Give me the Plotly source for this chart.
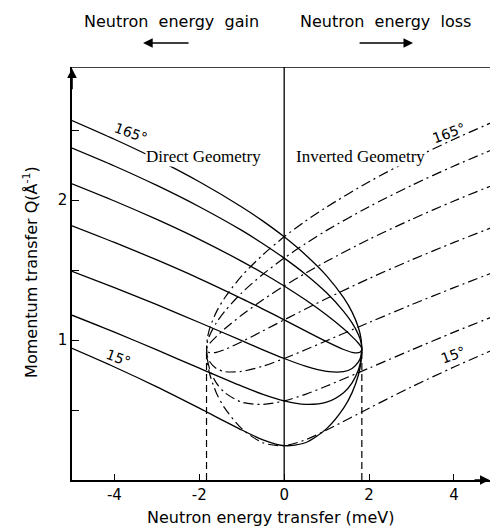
import plotly.graph_objects as go

# Neutron energy transfer (meV) sample points for the direct-geometry curves
omega_direct = [-5, -4, -3, -2, -1, -0.5, 0, 0.5, 1.0, 1.4, 1.6, 1.75, 1.81, 1.83]
# inverted geometry: mirror positions
omega_inverted = [5, 4, 3, 2, 1, 0.5, 0, -0.5, -1.0, -1.4, -1.6, -1.75, -1.81, -1.83]

# Momentum transfer Q (1/Angstrom) read for each scattering-angle curve (lowest to highest)
q_curve1 = [0.940, 0.807, 0.665, 0.513, 0.357, 0.287, 0.245, 0.266, 0.367, 0.513, 0.624, 0.752, 0.845, 0.940]
q_curve2 = [1.177, 1.056, 0.929, 0.799, 0.671, 0.612, 0.565, 0.540, 0.556, 0.624, 0.694, 0.787, 0.861, 0.940]
q_curve3 = [1.491, 1.374, 1.252, 1.125, 0.995, 0.930, 0.868, 0.813, 0.776, 0.774, 0.797, 0.843, 0.887, 0.940]
q_curve4 = [1.816, 1.697, 1.572, 1.439, 1.296, 1.221, 1.144, 1.065, 0.988, 0.932, 0.912, 0.909, 0.919, 0.940]
q_curve5 = [2.116, 1.993, 1.861, 1.719, 1.562, 1.477, 1.386, 1.287, 1.178, 1.080, 1.024, 0.977, 0.953, 0.940]
q_curve6 = [2.371, 2.243, 2.104, 1.952, 1.783, 1.688, 1.585, 1.470, 1.337, 1.205, 1.122, 1.038, 0.985, 0.940]
q_curve7 = [2.568, 2.434, 2.290, 2.130, 1.950, 1.849, 1.737, 1.609, 1.458, 1.302, 1.199, 1.088, 1.012, 0.940]
curves = [q_curve1, q_curve2, q_curve3, q_curve4, q_curve5, q_curve6, q_curve7]

fixed_energy = 1.83   # meV, position of the dashed limits
fixed_q = 0.94
x_range = [-5, 4.85]
q_range = [0, 2.95]

x_tick_vals = [-4, -2, 0, 2, 4]
x_tick_text = ["-4", "-2", "0", "2", "4"]
y_tick_vals = [0.5, 1, 1.5, 2, 2.5]
y_tick_text = ["", "1", "", "2", ""]

fig = go.Figure()

for q in curves:
    fig.add_trace(go.Scatter(x=omega_direct, y=q, mode="lines",
                             line=dict(color="black", width=1.3, shape="spline", smoothing=0.8),
                             showlegend=False, hoverinfo="skip"))
for q in curves:
    fig.add_trace(go.Scatter(x=omega_inverted, y=q, mode="lines",
                             line=dict(color="black", width=1.2, shape="spline", smoothing=0.8,
                                       dash="10px,4px,2px,4px"),
                             showlegend=False, hoverinfo="skip"))

# dashed kinematic limits
for xv in [-fixed_energy, fixed_energy]:
    fig.add_trace(go.Scatter(x=[xv, xv], y=[0, fixed_q], mode="lines",
                             line=dict(color="black", width=1.2, dash="7px,4px"),
                             showlegend=False, hoverinfo="skip"))
# zero energy transfer line
fig.add_trace(go.Scatter(x=[0, 0], y=q_range, mode="lines",
                         line=dict(color="black", width=1.3),
                         showlegend=False, hoverinfo="skip"))

# top frame line
fig.add_shape(type="line", x0=x_range[0], x1=x_range[1], y0=q_range[1], y1=q_range[1],
              xref="x", yref="y", line=dict(color="black", width=1.5))

font_sans = "DejaVu Sans"
font_serif = "Liberation Serif"

ann = []
ann.append(dict(x=-1.91, y=2.31, text="Direct Geometry", showarrow=False,
                font=dict(family=font_serif, size=17, color="black"), bgcolor="white", borderpad=0))
ann.append(dict(x=1.81, y=2.31, text="Inverted Geometry", showarrow=False,
                font=dict(family=font_serif, size=17, color="black"), bgcolor="white", borderpad=0))
ann.append(dict(x=-3.6, y=2.48, text="165°", showarrow=False, textangle=20,
                font=dict(family=font_sans, size=14, color="black")))
ann.append(dict(x=3.88, y=2.48, text="165°", showarrow=False, textangle=-20,
                font=dict(family=font_sans, size=14, color="black")))
ann.append(dict(x=-3.9, y=0.87, text="15°", showarrow=False, textangle=20,
                font=dict(family=font_sans, size=14, color="black")))
ann.append(dict(x=3.98, y=0.89, text="15°", showarrow=False, textangle=-20,
                font=dict(family=font_sans, size=14, color="black")))
# headings (paper coordinates, above the plot area)
ann.append(dict(xref="paper", yref="paper", x=0.237, y=1.111, xanchor="center", yanchor="middle",
                text="Neutron  energy  gain", showarrow=False,
                font=dict(family=font_sans, size=16, color="black")))
ann.append(dict(xref="paper", yref="paper", x=0.749, y=1.111, xanchor="center", yanchor="middle",
                text="Neutron  energy  loss", showarrow=False,
                font=dict(family=font_sans, size=16, color="black")))
# heading arrows
ann.append(dict(xref="paper", yref="paper", x=0.170, y=1.058, ax=47, ay=0, text="",
                showarrow=True, arrowhead=2, arrowsize=1.2, arrowwidth=1.6, arrowcolor="black"))
ann.append(dict(xref="paper", yref="paper", x=0.816, y=1.058, ax=-55, ay=0, text="",
                showarrow=True, arrowhead=2, arrowsize=1.2, arrowwidth=1.6, arrowcolor="black"))
# axis arrows
ann.append(dict(x=4.84, y=0, ax=4.45, ay=0, axref="x", ayref="y", text="",
                showarrow=True, arrowhead=2, arrowsize=1.2, arrowwidth=1.6, arrowcolor="black"))
ann.append(dict(x=-5, y=2.94, ax=-5, ay=2.78, axref="x", ayref="y", text="",
                showarrow=True, arrowhead=2, arrowsize=1.2, arrowwidth=1.6, arrowcolor="black"))
# axis titles
ann.append(dict(xref="paper", yref="paper", x=0.476, y=-0.0896, xanchor="center", yanchor="middle",
                text="Neutron energy transfer (meV)", showarrow=False,
                font=dict(family=font_sans, size=16, color="black")))
ann.append(dict(xref="paper", yref="paper", x=-0.098, y=0.504, xanchor="center", yanchor="middle",
                text="Momentum transfer Q(Å<sup>-1</sup>)", showarrow=False,
                textangle=-90, font=dict(family=font_sans, size=16, color="black")))

fig.update_layout(
    width=490, height=531,
    margin=dict(l=72, r=0, t=67, b=51),
    paper_bgcolor="white", plot_bgcolor="white",
    annotations=ann,
    xaxis=dict(range=x_range, showline=True, linecolor="black", linewidth=1.5,
               ticks="inside", ticklen=6, tickcolor="black", tickwidth=1.3,
               tickvals=x_tick_vals, ticktext=x_tick_text, showgrid=False, zeroline=False,
               tickfont=dict(family=font_sans, size=15, color="black")),
    yaxis=dict(range=q_range, showline=True, linecolor="black", linewidth=1.5,
               ticks="inside", ticklen=7, tickcolor="black", tickwidth=1.3,
               tickvals=y_tick_vals, ticktext=y_tick_text, showgrid=False, zeroline=False,
               tickfont=dict(family=font_sans, size=15, color="black")),
)

fig.write_html("out.html")
